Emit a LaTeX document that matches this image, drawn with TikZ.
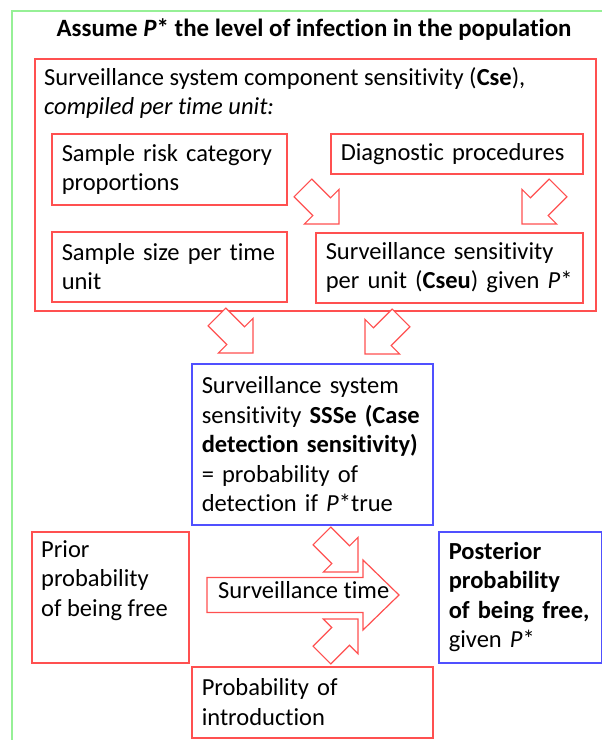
\documentclass[tikz,border=0pt]{standalone}
\usepackage{fontspec}
\setmainfont{Carlito}[Ligatures=NoCommon]

\definecolor{boxred}{RGB}{255,80,80}
\definecolor{boxblue}{RGB}{80,80,255}
\definecolor{framegreen}{RGB}{150,240,150}

\begin{document}
\begin{tikzpicture}[
  x=1pt,
  y=-1pt,
  every node/.style={font=\fontsize{24.5}{29.5}\selectfont},
  redbox/.style={draw=boxred, line width=1.5pt, inner xsep=10pt, inner ysep=0pt, anchor=north west, align=left},
  bluebox/.style={redbox, draw=boxblue},
  boxtext/.style={anchor=north west, align=left, inner xsep=10pt, inner ysep=9pt},
  blockarrow/.style={draw=boxred, fill=white, line width=1.2pt, line join=miter},
  smallarrow/.pic={\draw[blockarrow] (0,0) -- (-24.5,24.5) -- (-24.5,12.5) -- (-51,12.5) -- (-51,-12.5) -- (-24.5,-12.5) -- (-24.5,-24.5) -- cycle;}
  ]
    \useasboundingbox (0,0) rectangle (602,740);
    % frame
    \draw[framegreen, line width=1.5pt] (12,740) -- (12,11) -- (602,11);

    \node[font=\fontsize{24.9}{29.5}\selectfont] (title) at (314,30) {\textbf{Assume \textit{P}* the level of infection in the population}};

    % component sensitivity
    \node[redbox, minimum width=561pt, minimum height=252pt] (cse) at (34,58) {};
    \node[boxtext] (csetext) at (cse.north west) {Surveillance system component sensitivity (\textbf{Cse}),\\ \textit{compiled per time unit:}};

    \node[redbox, minimum width=235pt, minimum height=71pt, text width=215pt] (risk) at (51,133) {Sample risk category\\ proportions};
    \node[redbox, minimum width=252pt, minimum height=40pt, text width=232pt] (diag) at (330,133) {Diagnostic procedures};
    \node[redbox, minimum width=235pt, minimum height=70pt, text width=215pt] (size) at (51,231) {Sample size per time\\ unit};
    \node[redbox, minimum width=267pt, minimum height=70pt, text width=247pt] (cseu) at (315,232) {Surveillance sensitivity\\ per unit (\textbf{Cseu}) given \textit{P}*};

    % arrow tips
    \coordinate (t1) at (339,224);
    \coordinate (t2) at (522,224);
    \coordinate (t3) at (253,353);
    \coordinate (t4) at (365,354);
    \coordinate (t5) at (358,572);
    \coordinate (t6) at (358,619);
    \coordinate (t7) at (399,595);

    \pic[rotate=-45] at (t1) {smallarrow};
    \pic[rotate=-135] at (t2) {smallarrow};

    % system sensitivity
    \pic[rotate=-45] at (t3) {smallarrow};
    \pic[rotate=-135] at (t4) {smallarrow};
    \node[bluebox, minimum width=241pt, minimum height=161pt, text width=221pt] (ssse) at (191,363) {Surveillance system\\ sensitivity \textbf{SSSe (Case}\\ \textbf{detection sensitivity)}\\ = probability of\\ detection if \textit{P}*true};

    % bottom row
    \node[redbox, minimum width=157pt, minimum height=131pt] (prior) at (31,531) {};
    \node[boxtext] (priortext) at (prior.north west) {Prior\\ probability\\ of being free};

    \draw[blockarrow] (t7) -- +(-36,-35) -- +(-36,-17.5) -- +(-192,-17.5) -- +(-192,17.5) -- +(-36,17.5) -- +(-36,35) -- cycle;
    \node[anchor=base west, inner sep=0pt] (timetext) at (218,598) {Surveillance time};
    \pic[rotate=-45] at (t5) {smallarrow};
    \pic[rotate=45] at (t6) {smallarrow};

    \node[bluebox, minimum width=163pt, minimum height=131pt, text width=143pt] (post) at (438,531) {\textbf{Posterior}\\ \textbf{probability}\\ \textbf{of being free,}\\ given \textit{P}*};
    \node[redbox, minimum width=241pt, minimum height=71pt, text width=221pt] (intro) at (191,666) {Probability of\\ introduction};

\end{tikzpicture}
\end{document}
